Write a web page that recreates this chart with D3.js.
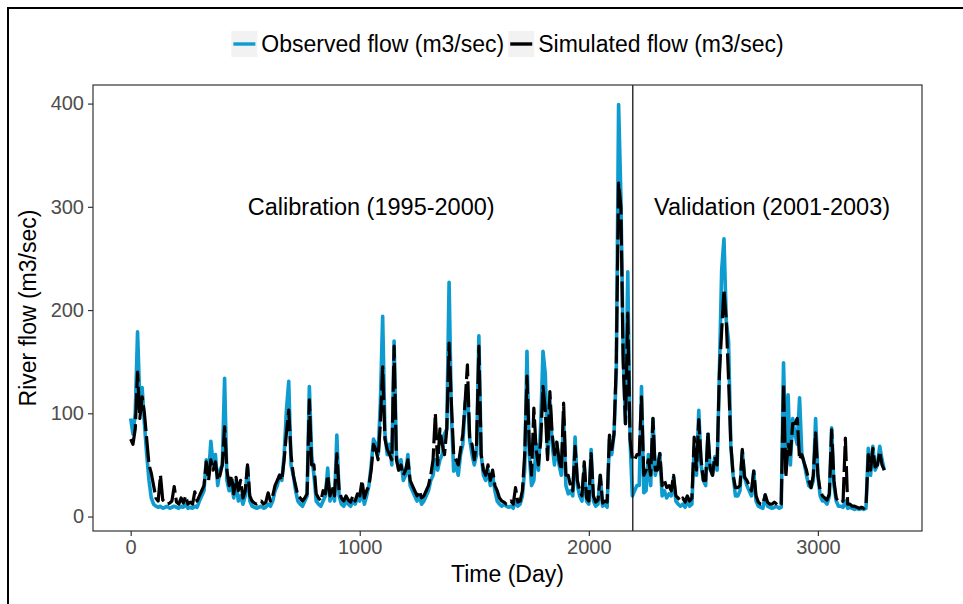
<!DOCTYPE html>
<html>
<head>
<meta charset="utf-8">
<script src="https://cdn.jsdelivr.net/npm/d3@7"></script>
<style>
  body { margin: 0; background: #fff; }
  svg { display: block; font-family: "Liberation Sans", Arial, sans-serif; }
</style>
</head>
<body>
<svg id="chart" width="963" height="604"></svg>
<script>
// daily flow, every 10 days (day 0 .. 3290)
var dayStep = 10;
var observed = [
  95, 80, 100, 179, 110, 125, 90, 60, 35, 18,
  12, 10, 9, 10, 8, 9, 10, 8, 9, 10,
  9, 8, 10, 9, 12, 8, 9, 8, 10, 9,
  15, 20, 25, 55, 40, 73, 50, 60, 30, 45,
  50, 134, 35, 25, 30, 18, 35, 15, 20, 12,
  20, 48, 15, 10, 9, 8, 9, 10, 8, 9,
  12, 10, 15, 25, 30, 40, 35, 60, 103, 131,
  50, 40, 25, 15, 12, 10, 15, 20, 126, 60,
  40, 15, 12, 10, 15, 20, 47, 15, 25, 15,
  79, 20, 12, 10, 15, 12, 10, 15, 12, 18,
  15, 25, 12, 20, 30, 50, 75, 70, 60, 110,
  194, 80, 60, 70, 50, 170, 60, 45, 55, 35,
  40, 60, 30, 25, 20, 15, 20, 12, 15, 20,
  25, 35, 40, 55, 45, 55, 60, 80, 85, 227,
  100, 44, 50, 40, 60, 70, 110, 120, 75, 60,
  50, 60, 175, 60, 40, 35, 45, 30, 40, 25,
  15, 12, 10, 12, 10, 9, 10, 8, 15, 10,
  12, 20, 45, 160, 60, 30, 35, 70, 45, 90,
  160, 138, 60, 112, 70, 50, 72, 50, 40, 95,
  30, 22, 25, 20, 77, 30, 20, 15, 48, 15,
  12, 65, 15, 10, 12, 40, 10, 12, 9, 75,
  60, 80, 140, 399, 310, 160, 90, 237, 75, 20,
  25, 30, 30, 126, 23, 25, 60, 30, 95, 40,
  50, 61, 20, 25, 18, 22, 20, 38, 15, 12,
  10, 12, 9, 15, 10, 12, 67, 40, 103, 50,
  35, 30, 80, 46, 40, 58, 45, 140, 239, 269,
  190, 170, 68, 40, 20, 20, 25, 63, 38, 30,
  25, 20, 44, 15, 10, 9, 8, 21, 10, 9,
  8, 9, 10, 8, 9, 149, 60, 118, 50, 95,
  80, 70, 115, 60, 52, 40, 30, 28, 35, 95,
  40, 20, 15, 15, 12, 20, 86, 30, 15, 10,
  10, 9, 15, 8, 9, 8, 7, 8, 7, 8,
  7, 8, 66, 40, 68, 45, 50, 68, 55, 45
];
var simulated = [
  75, 70, 85, 140, 95, 116, 100, 75, 50, 42,
  30, 18, 15, 40, 16, 14, 12, 13, 15, 29,
  14, 12, 18, 13, 20, 12, 14, 12, 24, 15,
  20, 25, 30, 53, 35, 55, 45, 53, 35, 40,
  50, 87, 45, 30, 40, 22, 38, 25, 35, 18,
  25, 50, 20, 15, 13, 12, 14, 15, 12, 14,
  23, 15, 20, 30, 35, 40, 35, 55, 81, 103,
  60, 40, 30, 20, 18, 15, 18, 22, 113, 50,
  50, 22, 18, 15, 25, 22, 40, 20, 30, 20,
  61, 25, 18, 15, 20, 16, 14, 20, 15, 22,
  20, 35, 18, 25, 30, 45, 70, 65, 55, 90,
  145, 75, 65, 60, 55, 165, 55, 45, 50, 40,
  45, 55, 35, 30, 25, 20, 25, 18, 20, 25,
  30, 40, 55, 100, 50, 85, 70, 60, 85, 168,
  110, 60, 55, 50, 65, 80, 111, 147, 75, 70,
  55, 70, 165, 60, 45, 40, 50, 35, 45, 30,
  25, 18, 15, 14, 12, 13, 15, 12, 28, 14,
  15, 25, 60, 136, 70, 40, 105, 65, 50, 73,
  126, 103, 55, 121, 80, 60, 72, 55, 45, 110,
  40, 40, 30, 25, 68, 35, 25, 20, 53, 18,
  15, 61, 20, 14, 16, 40, 13, 15, 14, 79,
  65, 80, 150, 323, 300, 150, 90, 197, 75, 55,
  55, 60, 60, 116, 40, 45, 55, 40, 95, 45,
  45, 61, 30, 35, 28, 30, 25, 40, 20, 18,
  15, 18, 14, 20, 15, 18, 77, 45, 94, 55,
  35, 35, 82, 46, 40, 58, 50, 138, 180, 220,
  190, 133, 70, 40, 28, 28, 30, 65, 38, 35,
  30, 25, 44, 20, 14, 12, 12, 21, 14, 12,
  12, 14, 12, 10, 12, 129, 38, 70, 60, 90,
  90, 95, 55, 60, 52, 45, 35, 28, 40, 81,
  40, 25, 20, 18, 16, 22, 84, 35, 18, 14,
  14, 15, 76, 12, 12, 10, 10, 9, 8, 9,
  8, 10, 60, 45, 66, 48, 50, 63, 50, 45
];
var seriesNames = ["Observed flow (m3/sec)", "Simulated flow (m3/sec)"];
var seriesColors = ["#0e9bd0", "#000000"];
var xTicks = [0, 1000, 2000, 3000];
var yTicks = [0, 100, 200, 300, 400];
var splitDay = 2192;
var periodLabels = ["Calibration (1995-2000)", "Validation (2001-2003)"];
var periodLabelDays = [1050, 2800];
var periodLabelValue = 300;

var svg = d3.select("#chart");
var panel = {left: 93, right: 922, top: 85, bottom: 531};

// outer frame (top + left only, like the cropped picture)
svg.append("line").attr("x1", 8).attr("x2", 963).attr("y1", 8).attr("y2", 8)
  .attr("stroke", "#000").attr("stroke-width", 2);
svg.append("line").attr("x1", 8).attr("x2", 8).attr("y1", 7).attr("y2", 604)
  .attr("stroke", "#000").attr("stroke-width", 2);

var lastDay = (observed.length - 1) * dayStep;
var padX = lastDay * 0.05;
var x = d3.scaleLinear().domain([-padX, lastDay + padX]).range([panel.left, panel.right]);
var y = d3.scaleLinear().domain([-14, 418]).range([panel.bottom, panel.top]);

function toPoints(vals){
  return vals.map(function(v, i){ return [i * dayStep, v]; });
}

var line = d3.line()
  .x(function(d){ return x(d[0]); })
  .y(function(d){ return y(d[1]); });

var plot = svg.append("g");

plot.append("path")
  .datum(toPoints(observed))
  .attr("d", line)
  .attr("fill", "none")
  .attr("stroke", seriesColors[0])
  .attr("stroke-width", 3.6)
  .attr("stroke-linejoin", "round");

plot.append("path")
  .datum(toPoints(simulated))
  .attr("d", line)
  .attr("fill", "none")
  .attr("stroke", seriesColors[1])
  .attr("stroke-width", 3.2)
  .attr("stroke-linejoin", "round")
  .attr("stroke-dasharray", "26,5");

// calibration / validation split
plot.append("line")
  .attr("x1", x(splitDay)).attr("x2", x(splitDay))
  .attr("y1", panel.top).attr("y2", panel.bottom)
  .attr("stroke", "#000").attr("stroke-width", 1.2);

periodLabels.forEach(function(t, i){
  plot.append("text")
    .attr("x", x(periodLabelDays[i]))
    .attr("y", y(periodLabelValue))
    .attr("dy", "0.35em")
    .attr("text-anchor", "middle")
    .attr("font-size", 23.5)
    .attr("fill", "#000")
    .text(t);
});

// panel border
svg.append("rect")
  .attr("x", panel.left).attr("y", panel.top)
  .attr("width", panel.right - panel.left).attr("height", panel.bottom - panel.top)
  .attr("fill", "none").attr("stroke", "#333").attr("stroke-width", 1.2);

// axes
var xAxis = svg.append("g")
  .attr("transform", "translate(0," + panel.bottom + ")")
  .call(d3.axisBottom(x).tickValues(xTicks).tickSize(5).tickPadding(4).tickFormat(d3.format("d")));
var yAxis = svg.append("g")
  .attr("transform", "translate(" + panel.left + ",0)")
  .call(d3.axisLeft(y).tickValues(yTicks).tickSize(5).tickPadding(4).tickFormat(d3.format("d")));

[xAxis, yAxis].forEach(function(a){
  a.select(".domain").remove();
  a.selectAll(".tick line").attr("stroke", "#333").attr("stroke-width", 1.2);
  a.selectAll(".tick text")
    .attr("fill", "#4d4d4d")
    .attr("font-size", 20)
    .attr("font-family", "Liberation Sans, Arial, sans-serif");
});

svg.append("text")
  .attr("x", (panel.left + panel.right) / 2)
  .attr("y", 582)
  .attr("text-anchor", "middle")
  .attr("font-size", 23)
  .text("Time (Day)");

svg.append("text")
  .attr("transform", "translate(36," + ((panel.top + panel.bottom) / 2) + ") rotate(-90)")
  .attr("text-anchor", "middle")
  .attr("font-size", 23)
  .text("River flow (m3/sec)");

// legend on top, centred over the panel
var legend = svg.append("g");
var lx = 0, keySize = 26;
seriesNames.forEach(function(name, i){
  var g = legend.append("g").attr("transform", "translate(" + lx + ",0)");
  g.append("rect").attr("width", keySize).attr("height", keySize).attr("fill", "#f2f2f2");
  g.append("line").attr("x1", 2).attr("x2", keySize - 2).attr("y1", keySize / 2).attr("y2", keySize / 2)
    .attr("stroke", seriesColors[i]).attr("stroke-width", 3.4);
  var t = g.append("text").attr("x", keySize + 4).attr("y", keySize / 2).attr("dy", "0.35em")
    .attr("font-size", 23).text(name);
  lx += keySize + 4 + t.node().getComputedTextLength() + 4;
});
var legendW = lx - 4;
legend.attr("transform", "translate(" + ((panel.left + panel.right) / 2 - legendW / 2) + ",31)");
</script>
</body>
</html>
